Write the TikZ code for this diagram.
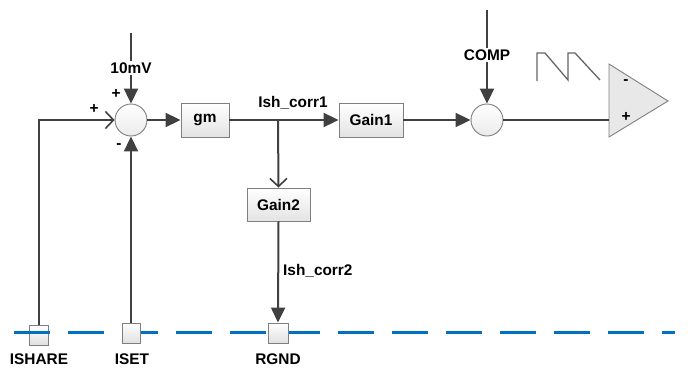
\documentclass[tikz,border=0pt]{standalone}
\usepackage{fontspec}
\setmainfont{Liberation Sans}
\usetikzlibrary{arrows.meta,shapes.geometric}
\definecolor{ln}{HTML}{404040}
\definecolor{bd}{HTML}{7F7F7F}
\definecolor{bus}{HTML}{0070C0}
\begin{document}
\begin{tikzpicture}[x=1pt,y=-1pt,
  every node/.style={font=\fontsize{15.4}{17}\selectfont\bfseries, inner sep=0pt},
  blk/.style={draw=bd, line width=0.9pt, top color=white, bottom color=black!11, minimum height=34pt, anchor=center},
  sumc/.style={circle, draw=bd, line width=0.9pt, top color=white, bottom color=black!8, minimum size=32pt},
  pin/.style={draw=bd, line width=0.9pt, top color=white, bottom color=black!12, minimum width=19pt, minimum height=20pt},
  wire/.style={draw=ln, line width=2pt},
  fa/.style={wire, -{Triangle[length=15pt,width=14pt]}},
  oa/.style={wire, -{Straight Barb[length=8pt,width=17pt,line width=1.6pt]}},
  lbl/.style={fill=white, inner sep=2pt},
  sgn/.style={font=\fontsize{15.4}{17}\selectfont\bfseries}
]
\useasboundingbox (0,0) rectangle (688,367);

% nodes
\node[sumc] (s1) at (131,120) {};
\node[blk, minimum width=48pt] (gm) at (205,120) {gm};
\node[blk, minimum width=64pt] (gain1) at (371,120) {Gain1};
\node[sumc] (s2) at (487,120) {};
\node[blk, minimum width=63pt, minimum height=33pt] (gain2) at (278.5,204.5) {Gain2};

% comparator
\draw[draw=bd, line width=0.9pt, fill=black!9] (609,64) -- (668,101) -- (609,137) -- cycle;
\coordinate (ampin) at (609,120);
\node[sgn] at (626,82) {-};
\node[sgn] at (626,117) {+};

% sawtooth
\draw[draw=ln!80, line width=1.3pt] (537,81) -- (537,53) -- (545,53) -- (568,80) -- (568,53) -- (575,53) -- (600,80);

% pins and bus
\node[pin] (ishare) at (38.5,335) {};
\coordinate (busL) at (14,332);
\coordinate (busR) at (675,332);
\draw[bus, line width=3pt, dash pattern=on 36pt off 18pt] (busL) -- (busR);
\node[pin, minimum width=18pt] (iset) at (131,333) {};
\node[pin, minimum width=20pt] (rgnd) at (278,333) {};
\node at (39,359) {ISHARE};
\node at (132,359) {ISET};
\node at (278,359) {RGND};

% coordinates
\coordinate (t1) at (131,33);
\coordinate (t2) at (487,10);
\coordinate (br) at (278,120);

% connectors
\draw[fa] (t1) -- (s1.north);
\node[lbl] at (131,68) {10mV};
\draw[fa] (t2) -- (s2.north);
\node[lbl] at (487,55) {COMP};
\draw[oa] (ishare.north) |- (s1.west);
\draw[fa] (iset.north) -- (s1.south);
\draw[fa] (s1.east) -- (gm.west);
\draw[fa] (gm.east) -- (gain1.west);
\node at (293,103) {Ish\_corr1};
\draw[oa] (br) -- (gain2.north);
\draw[fa] (gain2.south) -- (rgnd.north);
\node[anchor=west] at (283,271) {Ish\_corr2};
\draw[fa] (gain1.east) -- (s2.west);
\draw[wire] (s2.east) -- (ampin);

% signs
\node[sgn] at (116,94) {+};
\node[sgn] at (94,109) {+};
\node[sgn] at (119,146) {-};
\end{tikzpicture}
\end{document}
